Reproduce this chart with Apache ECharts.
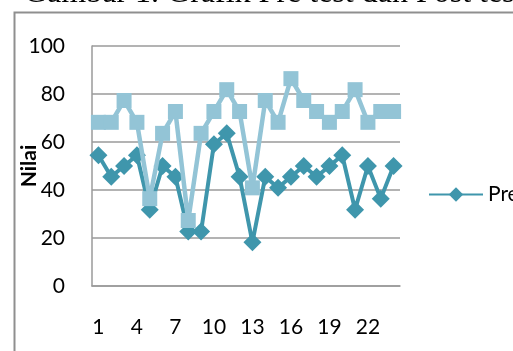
<!DOCTYPE html>
<html>
<head>
<meta charset="utf-8">
<script src="https://cdn.jsdelivr.net/npm/echarts@6/dist/echarts.min.js"></script>
<style>
  html, body { margin: 0; padding: 0; background: #fff; }
  #chart { width: 513px; height: 351px; }
</style>
</head>
<body>
<div id="chart"></div>
<script>
// Student numbers 1..24
const students = ['1','2','3','4','5','6','7','8','9','10','11','12','13','14','15','16','17','18','19','20','21','22','23','24'];
// Pre test scores
const preTest = [54.5, 45.5, 50, 54.5, 31.8, 50, 45.5, 22.7, 22.7, 59.1, 63.6, 45.5, 18.2, 45.5, 40.9, 45.5, 50, 45.5, 50, 54.5, 31.8, 50, 36.4, 50];
// Post test scores
const postTest = [68.2, 68.2, 77.3, 68.2, 36.4, 63.6, 72.7, 27.3, 63.6, 72.7, 81.8, 72.7, 40.9, 77.3, 68.2, 86.4, 77.3, 72.7, 68.2, 72.7, 81.8, 68.2, 72.7, 72.7];
const yTicks = { min: 0, max: 100, step: 20 };

const chart = echarts.init(document.getElementById('chart'), null, { renderer: 'canvas' });
const labelFont = 'Lato, "Open Sans", sans-serif';

chart.setOption({
  animation: false,
  backgroundColor: '#ffffff',
  graphic: [
    {
      // caption above the chart frame, its upper part outside the view
      type: 'text', left: 24, top: -22, z: 10,
      style: { text: 'Gambar 1. Grafik Pre test dan Post test', font: '32px "Liberation Serif", serif', fill: '#000' }
    },
    {
      type: 'rect', left: 12, top: 10, z: 0, silent: true,
      shape: { x: 0, y: 0, width: 560, height: 400 },
      style: { fill: 'none', stroke: '#8f8f8f', lineWidth: 2 }
    }
  ],
  grid: { left: 92, right: 113, top: 46, bottom: 65, containLabel: false, outerBoundsMode: 'none' },
  legend: {
    data: ['Pre test'],
    left: 423, top: 179,
    itemWidth: 54, itemHeight: 18, itemGap: 5,
    textStyle: { fontFamily: labelFont, fontSize: 21, color: '#000' }
  },
  xAxis: {
    type: 'category',
    data: students,
    boundaryGap: true,
    axisLine: { show: true, lineStyle: { color: '#9a9a9a', width: 1.5 } },
    axisTick: { show: false },
    axisLabel: { interval: 2, margin: 31, fontFamily: labelFont, fontSize: 21, color: '#000' }
  },
  yAxis: {
    type: 'value',
    min: yTicks.min, max: yTicks.max, interval: yTicks.step,
    name: 'Nilai',
    nameLocation: 'middle',
    nameRotate: 90,
    nameGap: 52,
    nameMoveOverlap: false,
    nameTextStyle: { fontFamily: labelFont, fontSize: 21, fontWeight: 'bold', color: '#000' },
    axisLine: { show: true, lineStyle: { color: '#9a9a9a', width: 1.5 } },
    axisTick: { show: false },
    splitLine: { show: true, lineStyle: { color: '#9a9a9a', width: 1.5 } },
    axisLabel: { margin: 27, fontFamily: labelFont, fontSize: 21, color: '#000' }
  },
  series: [
    {
      name: 'Pre test',
      type: 'line',
      data: preTest,
      z: 2,
      symbol: 'diamond',
      symbolSize: 18,
      showAllSymbol: true,
      lineStyle: { color: '#3f96ac', width: 4 },
      itemStyle: { color: '#3f96ac', borderWidth: 0 }
    },
    {
      name: 'Post test',
      type: 'line',
      data: postTest,
      z: 3,
      symbol: 'rect',
      symbolSize: 15,
      showAllSymbol: true,
      lineStyle: { color: '#93c4d6', width: 4.5 },
      itemStyle: { color: '#93c4d6', borderWidth: 0 }
    }
  ]
});
</script>
</body>
</html>
